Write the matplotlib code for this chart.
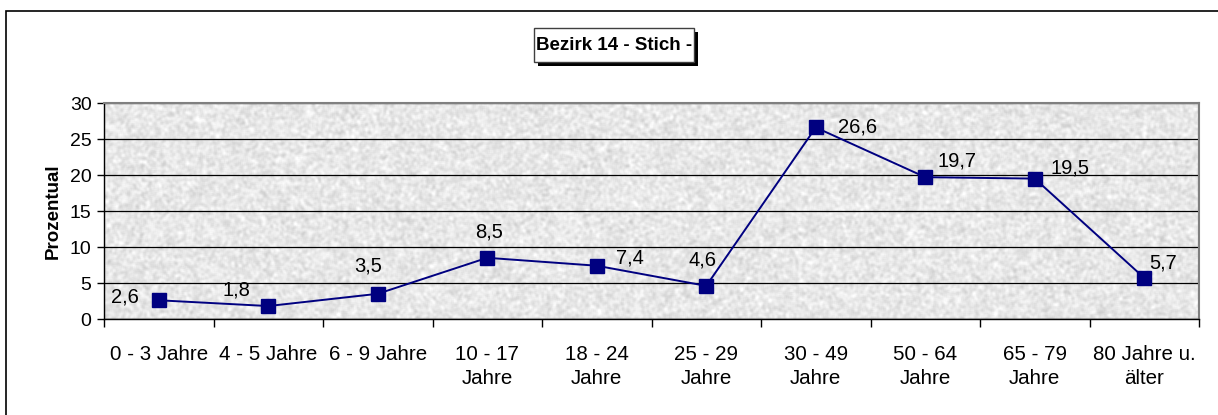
import matplotlib
matplotlib.use('Agg')
import matplotlib.pyplot as plt
import matplotlib.patheffects as pe
from matplotlib.patches import Rectangle
import numpy as np

# daten
kategorien = ['0 - 3 Jahre', '4 - 5 Jahre', '6 - 9 Jahre', '10 - 17\nJahre', '18 - 24\nJahre',
              '25 - 29\nJahre', '30 - 49\nJahre', '50 - 64\nJahre', '65 - 79\nJahre', '80 Jahre u.\nälter']
werte = [2.6, 1.8, 3.5, 8.5, 7.4, 4.6, 26.6, 19.7, 19.5, 5.7]
# label-verschiebung in pixeln (dx, dy)
label_offset = [(-34, 3), (-32, 16), (-10, 28), (2, 26), (33, 8),
                (-4, 26), (42, 0), (32, 16), (35, 11), (19, 15)]

plt.rcParams['font.family'] = ['Liberation Sans', 'DejaVu Sans']

W, H = 1218, 415
fig = plt.figure(figsize=(W / 100, H / 100), dpi=100)
ax = fig.add_axes([104/W, 1 - 319/H, 1095/W, 216/H])

# granit-hintergrund (nur textur)
rng = np.random.default_rng(3)
noise = rng.random((216, 1095))
k = np.ones(3) / 3
for _ in range(2):
    noise = np.apply_along_axis(lambda r: np.convolve(r, k, mode='same'), 1, noise)
    noise = np.apply_along_axis(lambda c: np.convolve(c, k, mode='same'), 0, noise)
noise = (noise - noise.mean()) / noise.std()
tex = np.clip(0.905 + 0.03 * noise, 0.78, 1.0)
ax.imshow(tex, cmap='gray', vmin=0, vmax=1, extent=[-0.5, 9.5, 0, 30],
          aspect='auto', zorder=0, interpolation='nearest')

x = np.arange(len(werte))
ax.plot(x, werte, color='#000080', lw=1.4, marker='s', markersize=10,
        markerfacecolor='#000080', markeredgecolor='#000080', zorder=3)

for xi, v, (dx, dy) in zip(x, werte, label_offset):
    ax.annotate(f'{v:.1f}'.replace('.', ','), (xi, v), xytext=(dx, dy),
                textcoords='offset pixels', ha='center', va='center', fontsize=14.5)

ax.set_xlim(-0.5, 9.5)
ax.set_ylim(0, 30)
ax.set_yticks(range(0, 31, 5))
ax.yaxis.grid(True, color='black', lw=0.9)
for gl in ax.get_ygridlines():
    gl.set_zorder(1)
ax.set_xticks(x)
ax.set_xticklabels(kategorien, fontsize=14.8, linespacing=1.3)
ax.set_xticks(np.arange(-0.5, 10, 1), minor=True)
ax.tick_params(axis='x', which='major', length=0, pad=19)
ax.tick_params(axis='x', which='minor', length=6, width=1)
ax.tick_params(axis='y', length=5, width=1, labelsize=14, pad=4)
ax.set_ylabel('Prozentual', fontsize=13.5, fontweight='bold', labelpad=6)

for s in ['top', 'right']:
    ax.spines[s].set_color('#808080')
    ax.spines[s].set_linewidth(1.5)
for s in ['left', 'bottom']:
    ax.spines[s].set_color('black')
    ax.spines[s].set_linewidth(1)

# titel-kasten mit schatten
box = Rectangle((534/W, 1 - 62/H), 160/W, 34/H, transform=fig.transFigure,
                facecolor='white', edgecolor='#404040', lw=1)
box.set_path_effects([pe.SimplePatchShadow(offset=(3, -3), shadow_rgbFace='black', alpha=1), pe.Normal()])
fig.patches.append(box)
fig.text(614/W, 1 - 45/H, 'Bezirk 14 - Stich -', ha='center', va='center',
         fontsize=13.5, fontweight='bold')

# rahmen
fig.patches.append(Rectangle((6/W, -0.2), 1.5, 1.2 - 11/H, transform=fig.transFigure,
                             fill=False, edgecolor='black', lw=1.2))

fig.savefig('out.png', dpi=100)
